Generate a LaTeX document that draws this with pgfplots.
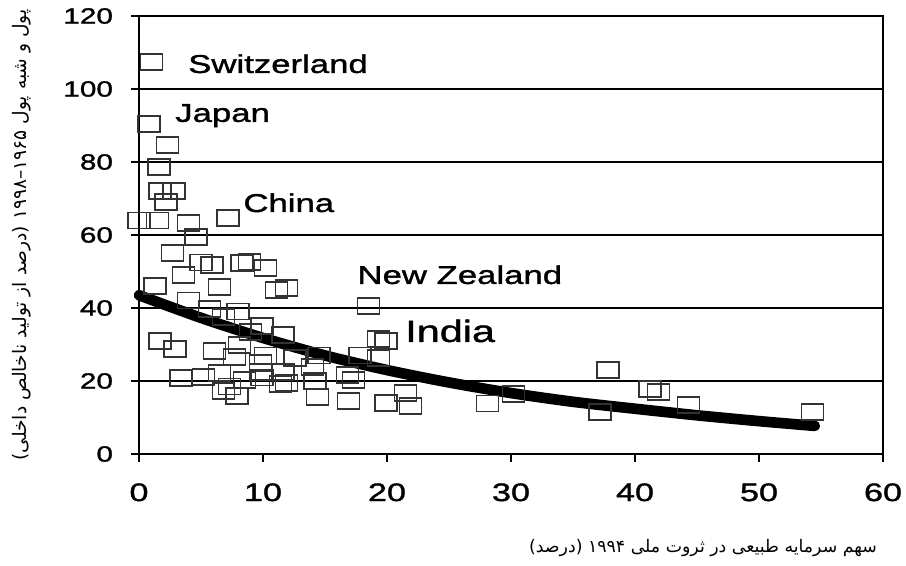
\documentclass[border=0pt]{standalone}
\usepackage{fontspec}
\usepackage{pgfplots}
\usepackage{pgfplotstable}
\pgfplotsset{compat=1.18}
\setmainfont[FakeStretch=1.35, FakeBold=1.4]{Liberation Sans}
\newfontfamily\fa[Script=Arabic]{DejaVu Sans}
\TeXXeTstate=1

% money and quasi-money vs. natural capital share, one row per country
\pgfplotstableread{
x y
1.0 107.4
0.8 90.4
2.3 84.7
1.6 78.6
1.7 72.0
2.8 72.0
2.2 69.0
0.0 64.0
1.5 64.0
4.0 63.3
4.6 59.5
7.2 64.7
2.7 55.0
5.0 52.5
5.9 51.8
8.3 52.3
8.9 52.6
10.2 51.0
3.6 49.0
6.5 45.8
11.1 45.0
11.9 45.5
1.3 46.0
4.0 42.0
5.7 39.7
8.0 39.0
6.8 37.5
9.9 35.0
9.0 33.5
11.6 32.6
1.7 31.0
2.9 28.8
6.1 28.2
7.7 26.6
8.1 29.9
9.8 25.0
10.2 27.0
12.6 26.3
14.5 27.0
3.4 20.8
5.2 21.1
6.5 22.2
6.8 17.3
7.9 15.9
7.3 18.5
8.5 20.3
9.8 22.5
9.9 21.0
11.6 22.5
11.4 19.2
11.9 19.5
14.0 23.8
14.2 20.0
14.4 15.6
16.8 21.6
17.3 20.3
16.9 14.6
17.8 27.0
19.3 26.3
18.5 40.5
19.3 31.5
19.9 31.0
21.5 16.7
19.9 14.0
21.9 13.2
28.1 13.8
30.2 16.5
37.2 11.5
37.8 23.0
41.2 17.8
41.9 17.0
44.3 13.4
54.3 11.5
}\countries

% fitted trend
\pgfplotstableread{
x y
0 43.5
5 37.3
10 31.8
15 27.0
20 23.0
25 19.6
30 16.7
35 14.3
40 12.4
45 10.6
50 9.0
54.5 7.7
}\trend

\begin{document}
\begin{tikzpicture}
\useasboundingbox (-104.25pt,-84pt) rectangle (575.25pt,340.5pt);
\begin{axis}[
  at={(0pt,0pt)}, anchor=south west,
  scale only axis, width=558pt, height=328.5pt,
  xmin=0, xmax=60, ymin=0, ymax=120,
  xtick={0,10,...,60}, ytick={0,20,...,120},
  ymajorgrids, grid style={black, line width=0.8pt},
  tick align=outside, xtick pos=bottom, ytick pos=left,
  major tick length=6pt,
  tick style={black, line width=0.9pt},
  axis line style={line width=1.3pt},
  /pgf/number format/assume math mode=true,
  xticklabel style={font=\fontsize{19}{20}\selectfont, yshift=-12.5pt},
  yticklabel style={font=\fontsize{16.5}{18}\selectfont, xshift=-10pt},
  clip=false,
]
\addplot[only marks, mark=square, mark size=6pt,
  mark options={xscale=1.375, draw=black!80, line width=1.2pt, fill=none}]
  table[x=x, y=y] {\countries};
\addplot[black, line width=8pt, line cap=round, smooth, no marks]
  table[x=x, y=y] {\trend};

\node[anchor=base west, inner sep=0, font=\fontsize{19.3}{20}\selectfont] at (axis cs:3.95,104.4) {Switzerland};
\node[anchor=base west, inner sep=0, font=\fontsize{19.3}{20}\selectfont] at (axis cs:2.9,91) {Japan};
\node[anchor=base west, inner sep=0, font=\fontsize{19.3}{20}\selectfont] at (axis cs:8.4,66.3) {China};
\node[anchor=base west, inner sep=0, font=\fontsize{19.3}{20}\selectfont] at (axis cs:17.6,46.6) {New Zealand};
\node[anchor=base west, inner sep=0, font=\fontsize{23}{24}\selectfont] at (axis cs:21.45,30.7) {India};
\end{axis}

\node[rotate=90, inner sep=0, font=\fa\fontsize{14}{16}\selectfont] at (-87.75pt,164.25pt)
  {\beginR پول و شبه پول \beginL۱۹۶۵–۱۹۹۸\endL{} (درصد از تولید ناخالص داخلی)\endR};
\node[inner sep=0, font=\fa\fontsize{13}{15}\selectfont] at (423pt,-70.5pt)
  {\beginR سهم سرمایه طبیعی در ثروت ملی \beginL۱۹۹۴\endL{} (درصد)\endR};
\end{tikzpicture}
\end{document}
